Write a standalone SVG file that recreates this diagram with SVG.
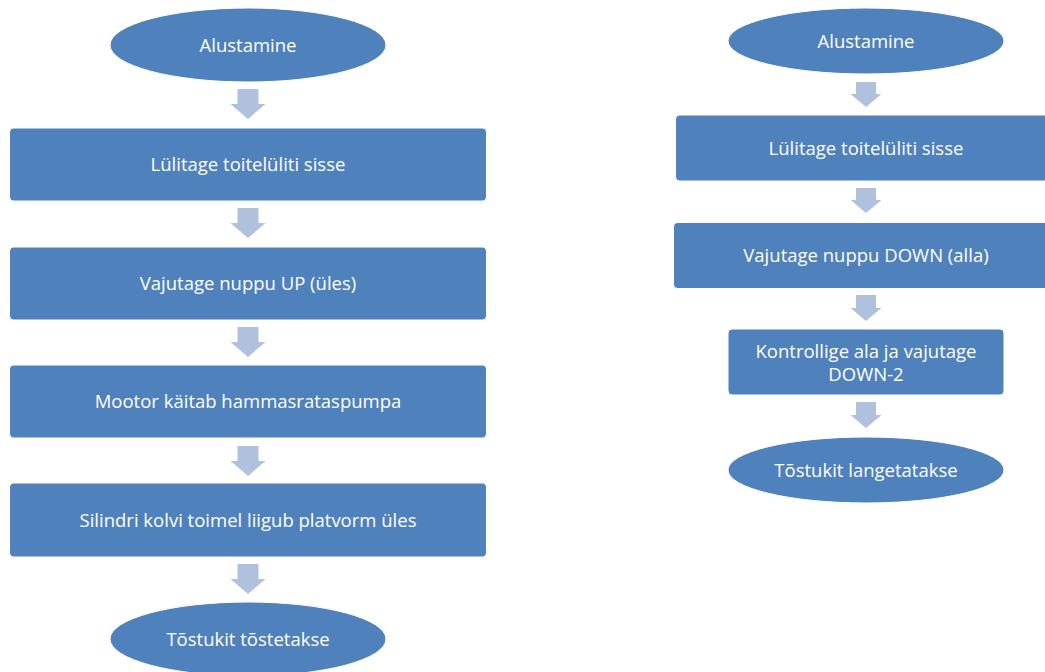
<svg xmlns="http://www.w3.org/2000/svg" width="1045" height="672" viewBox="0 0 1045 672">
<style>
.n{fill:#4F81BD;stroke:#ffffff;stroke-width:1}
.a{fill:#B0C1DD}
.t{font-family:"Open Sans","Liberation Sans",Arial,sans-serif;font-size:18.5px;fill:#ffffff;text-anchor:middle;dominant-baseline:central}
</style>
<rect width="1045" height="672" fill="#ffffff"/>
<g id="connectors">
<path class="a" d="M237.5,89 h21 v15 h7 l-17.5,15 l-17.5,-15 h7 z"/>
<path class="a" d="M237.5,208 h21 v15 h7 l-17.5,15 l-17.5,-15 h7 z"/>
<path class="a" d="M237.5,327 h21 v15 h7 l-17.5,15 l-17.5,-15 h7 z"/>
<path class="a" d="M237.5,446 h21 v15 h7 l-17.5,15 l-17.5,-15 h7 z"/>
<path class="a" d="M237.5,564 h21 v15 h7 l-17.5,15 l-17.5,-15 h7 z"/>
<path class="a" d="M856,82 h20 v12 h5.5 l-15.5,13 l-15.5,-13 h5.5 z"/>
<path class="a" d="M856,188 h20 v12 h5.5 l-15.5,13 l-15.5,-13 h5.5 z"/>
<path class="a" d="M856,295 h20 v13 h5.5 l-15.5,13 l-15.5,-13 h5.5 z"/>
<path class="a" d="M856,402 h20 v13 h5.5 l-15.5,13 l-15.5,-13 h5.5 z"/>
</g>
<g id="l1"><ellipse class="n" cx="248" cy="45" rx="138" ry="37"/><text class="t" x="248" y="44">Alustamine</text></g>
<g id="l2"><rect class="n" x="9.5" y="128" width="477" height="73" rx="4"/><text class="t" x="248" y="163">Lülitage toitelüliti sisse</text></g>
<g id="l3"><rect class="n" x="9.5" y="247" width="477" height="73" rx="4"/><text class="t" x="248" y="282">Vajutage nuppu UP (üles)</text></g>
<g id="l4"><rect class="n" x="9.5" y="365" width="477" height="73" rx="4"/><text class="t" x="248" y="400">Mootor käitab hammasrataspumpa</text></g>
<g id="l5"><rect class="n" x="9.5" y="483" width="477" height="74" rx="4"/><text class="t" x="248" y="519">Silindri kolvi toimel liigub platvorm üles</text></g>
<g id="l6"><ellipse class="n" cx="248" cy="639" rx="138" ry="37"/><text class="t" x="248" y="638">Tõstukit tõstetakse</text></g>
<g id="r1"><ellipse class="n" cx="866" cy="41" rx="138" ry="33"/><text class="t" x="866" y="40">Alustamine</text></g>
<g id="r2"><rect class="n" x="675.5" y="115" width="381" height="66" rx="4"/><text class="t" x="866" y="147">Lülitage toitelüliti sisse</text></g>
<g id="r3"><rect class="n" x="673.5" y="222.5" width="385" height="66" rx="4"/><text class="t" x="866" y="254">Vajutage nuppu DOWN (alla)</text></g>
<g id="r4"><rect class="n" x="728" y="329" width="276" height="66" rx="4"/><text class="t" x="866" y="350"><tspan x="866" y="350">Kontrollige ala ja vajutage</tspan><tspan x="866" y="373">DOWN-2</tspan></text></g>
<g id="r5"><ellipse class="n" cx="866" cy="470" rx="138" ry="33"/><text class="t" x="866" y="469">Tõstukit langetatakse</text></g>
</svg>
